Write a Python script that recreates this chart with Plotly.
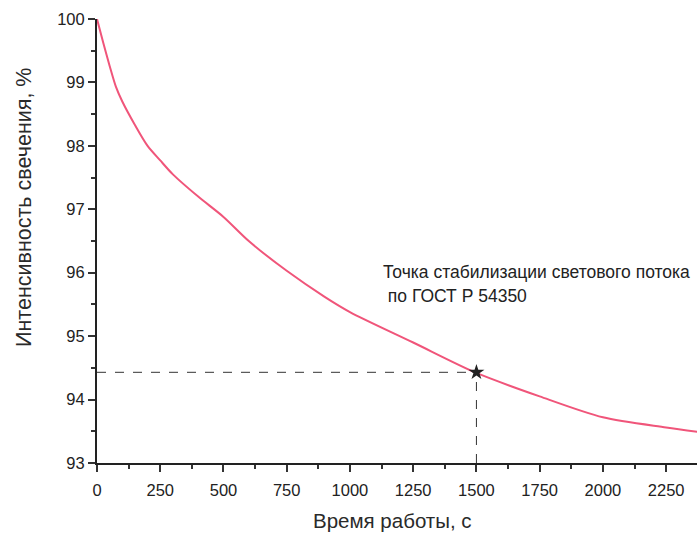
import plotly.graph_objects as go

time_s = [0, 25, 50, 75, 100, 150, 200, 250, 300, 400, 500, 600, 750, 900, 1000, 1250, 1500, 1750, 2000, 2250, 2375]
intensity = [100, 99.62, 99.26, 98.93, 98.7, 98.33, 98.0, 97.77, 97.55, 97.2, 96.88, 96.5, 96.03, 95.62, 95.38, 94.9, 94.42, 94.05, 93.72, 93.56, 93.49]
stab_time = 1500
stab_value = 94.43
x_ticks = [0, 250, 500, 750, 1000, 1250, 1500, 1750, 2000, 2250]
y_ticks = [93, 94, 95, 96, 97, 98, 99, 100]
annotation_line1 = "Точка стабилизации светового потока"
annotation_line2 = " по ГОСТ Р 54350"

FONT = "Liberation Sans, Arial, sans-serif"
L, T, W, H = 97, 19, 600, 444


def px_x(p):
    return (p - L) / W


def px_y(p):
    return 1 - (p - T) / H


fig = go.Figure()
fig.add_trace(go.Scatter(x=time_s, y=intensity, mode="lines", line=dict(color="#f0557a", width=2, smoothing=0.8), line_shape="spline", showlegend=False))
fig.add_trace(go.Scatter(x=[0, stab_time], y=[stab_value, stab_value], mode="lines", line=dict(color="#333", width=1, dash="dash"), showlegend=False))
fig.add_trace(go.Scatter(x=[stab_time, stab_time], y=[93, stab_value], mode="lines", line=dict(color="#333", width=1, dash="dash"), showlegend=False))
fig.add_trace(go.Scatter(x=[stab_time], y=[stab_value], mode="markers", marker=dict(symbol="star", size=12, color="#222"), showlegend=False))

fig.add_annotation(x=px_x(381), y=px_y(272), xref="paper", yref="paper", text=annotation_line1, showarrow=False,
                   xanchor="left", yanchor="middle", align="left", font=dict(family=FONT, size=17.5, color="#222"))
fig.add_annotation(x=px_x(381), y=px_y(296), xref="paper", yref="paper", text=annotation_line2, showarrow=False,
                   xanchor="left", yanchor="middle", align="left", font=dict(family=FONT, size=17.5, color="#222"))
fig.add_annotation(x=px_x(24), y=px_y(208), xref="paper", yref="paper", text="Интенсивность свечения, %", showarrow=False,
                   textangle=-90, xanchor="center", yanchor="middle", font=dict(family=FONT, size=21.5, color="#2a2a2a"))
fig.add_annotation(x=px_x(392), y=px_y(520), xref="paper", yref="paper", text="Время работы, с", showarrow=False,
                   xanchor="center", yanchor="middle", font=dict(family=FONT, size=20.5, color="#2a2a2a"))

fig.update_layout(
    width=697, height=533,
    margin=dict(l=L, r=0, t=T, b=70),
    plot_bgcolor="white", paper_bgcolor="white",
    font=dict(family=FONT, color="#222"),
)
fig.update_xaxes(range=[0, 2372], tickvals=x_ticks, ticks="outside", ticklen=7, tickwidth=1.5, tickcolor="#333",
                 showline=True, linecolor="#222", linewidth=2, showgrid=False, zeroline=False,
                 tickfont=dict(size=16.5, family=FONT, color="#222"), ticklabelstandoff=4,
                 minor=dict(tickvals=[125, 375, 625, 875, 1125, 1375, 1625, 1875, 2125, 2375], ticks="outside", ticklen=4, tickcolor="#333"))
fig.update_yaxes(range=[93, 100], tickvals=y_ticks, ticks="outside", ticklen=7, tickwidth=1.5, tickcolor="#333",
                 showline=True, linecolor="#222", linewidth=2, showgrid=False, zeroline=False,
                 tickfont=dict(size=16.5, family=FONT, color="#222"),
                 minor=dict(tickvals=[93.5, 94.5, 95.5, 96.5, 97.5, 98.5, 99.5], ticks="outside", ticklen=4, tickcolor="#333"))

fig.write_html("out.html")
